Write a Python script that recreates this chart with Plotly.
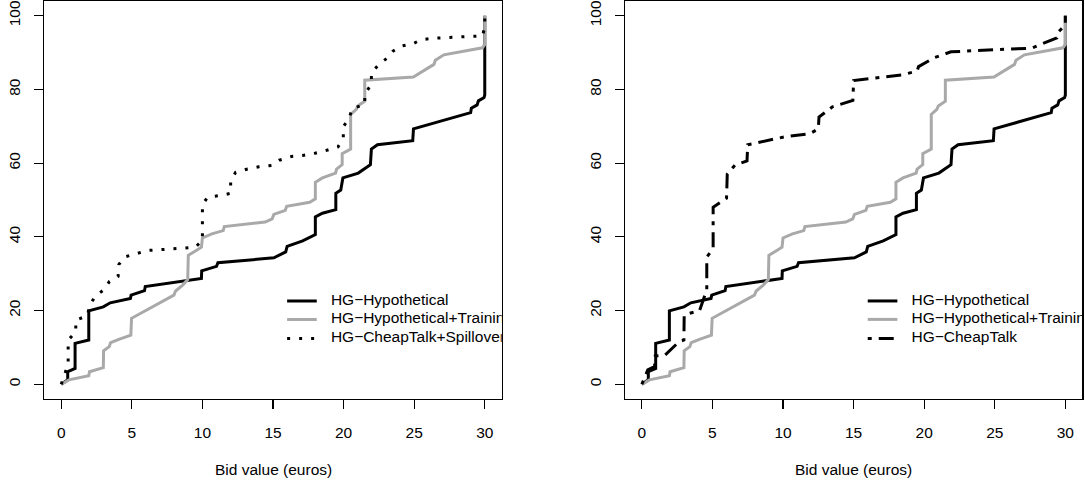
import plotly.graph_objects as go

# ---------------- data ----------------
hyp_x = [0, 0.46, 0.46, 0.98, 0.98, 1.95, 1.95, 2.98, 3.47, 4.9, 4.95, 5.9, 5.95, 9.93, 9.95,
         11.0, 11.1, 15.06, 15.9, 16.0, 17.1, 18.0, 18.0, 18.5, 19.45, 19.45, 19.8, 19.95, 21.04,
         21.9, 21.97, 22.4, 24.9, 24.95, 29.0, 29.05, 29.46, 29.55, 29.95, 30.0, 30.0]
hyp_y = [0, 1.2, 3.4, 4.3, 11.1, 12.0, 19.9, 21.0, 22.1, 23.3, 24.2, 25.4, 26.5, 28.7, 30.8,
         32.0, 33.0, 34.3, 35.9, 37.4, 38.9, 40.6, 45.4, 46.4, 47.4, 51.8, 52.7, 56.0, 57.3,
         59.6, 63.8, 65.0, 66.1, 69.3, 73.7, 74.9, 75.8, 76.9, 77.8, 78.5, 100]

train_x = [0, 0.54, 1.95, 2.0, 2.98, 3.0, 3.4, 3.5, 4.08, 4.93, 4.98, 7.98, 8.1, 8.6, 8.96, 9.0,
           9.56, 9.93, 10.0, 10.67, 11.47, 11.55, 14.45, 14.94, 15.06, 15.87, 15.97, 17.6, 18.0,
           18.0, 18.5, 19.43, 19.5, 19.9, 19.9, 20.2, 20.5, 20.5, 20.9, 21.0, 21.5, 21.5, 24.94,
           26.4, 26.5, 27.1, 29.83, 30.0, 30.0]
train_y = [0, 1.2, 2.3, 3.4, 4.5, 9.1, 10.2, 11.3, 12.2, 13.3, 17.9, 24.2, 25.3, 26.9, 28.4, 35.0,
           36.3, 37.2, 39.7, 40.8, 41.7, 42.8, 44.0, 44.9, 46.1, 47.2, 48.3, 49.4, 50.3,
           54.8, 56.0, 57.3, 58.4, 59.6, 62.6, 63.3, 63.8, 73.2, 74.6, 75.5, 76.8, 82.5, 83.4,
           86.8, 87.9, 89.4, 91.3, 92.2, 100]

spill_x = [0, 0.27, 0.49, 0.49, 1.03, 1.03, 1.85, 2.0, 2.37, 3.0, 3.42, 4.03, 4.08, 4.45, 5.3,
           6.1, 6.96, 8.67, 9.5, 10.0, 10.0, 10.38, 11.23, 12.0, 12.0, 12.35, 13.2, 14.0, 14.94,
           15.45, 16.3, 17.1, 17.97, 18.8, 19.6, 19.98, 19.98, 20.4, 20.6, 21.5, 21.5, 21.97,
           21.97, 22.5, 23.05, 23.5, 24.1, 24.9, 25.5, 26.4, 27.2, 28.1, 29.0, 29.85, 30.0, 30.0]
spill_y = [0, 2.8, 5.5, 12.0, 14.2, 17.4, 18.6, 21.2, 23.7, 25.6, 27.9, 29.3, 32.5, 34.5, 35.4,
           36.3, 36.5, 37.0, 37.2, 39.0, 48.8, 50.8, 51.2, 51.8, 55.2, 57.5, 58.4, 59.0, 59.4,
           60.8, 61.8, 62.1, 62.7, 63.5, 64.4, 66.6, 69.9, 72.2, 74.8, 75.9, 78.8, 81.4,
           84.5, 86.8, 88.4, 90.4, 91.8, 92.4, 93.5, 93.9, 94.1, 94.3, 94.4, 94.5, 97.2, 100]

cheap_x = [0, 0.42, 0.9, 0.95, 1.64, 2.0, 2.62, 2.98, 3.0, 3.3, 4.08, 4.5, 4.6, 4.6, 5.05, 5.05,
           6.0, 6.05, 6.6, 7.45, 7.5, 10.2, 11.9, 12.5, 12.55, 13.5, 14.95, 15.0, 18.5, 19.5,
           19.6, 20.7, 21.9, 24.9, 27.6, 29.4, 29.5, 30.0, 30.0]
cheap_y = [0, 3.9, 4.8, 7.7, 7.9, 9.3, 11.5, 12.0, 18.8, 19.2, 19.9, 24.5, 25.5, 34.5, 36.8, 48.0,
           50.5, 57.0, 59.5, 60.6, 65.0, 67.2, 68.0, 69.3, 72.5, 75.3, 77.0, 82.4, 84.0, 85.0,
           86.2, 88.6, 90.2, 90.8, 91.2, 94.0, 95.6, 97.5, 100]

x_ticks = [0, 5, 10, 15, 20, 25, 30]
y_ticks = [0, 20, 40, 60, 80, 100]

left_labels = ["HG\u2212Hypothetical", "HG\u2212Hypothetical+Training",
               "HG\u2212CheapTalk+Spillover"]
right_labels = ["HG\u2212Hypothetical", "HG\u2212Hypothetical+Training", "HG\u2212CheapTalk"]
x_title = "Bid value (euros)"

# ---------------- styles / layout constants ----------------
W, H = 1085, 480
FONT = "Liberation Sans, Arial, Helvetica, sans-serif"
FS = 15.5
GREY = "#A9A9A9"
LW = 3
DOT = "3px,9px"
DOTDASH = "4px,7px,15px,7px"

styles_left = [dict(color="black", width=LW, dash="solid"),
               dict(color=GREY, width=LW, dash="solid"),
               dict(color="black", width=LW, dash=DOT)]
styles_right = [dict(color="black", width=LW, dash="solid"),
                dict(color=GREY, width=LW, dash="solid"),
                dict(color="black", width=LW, dash=DOTDASH)]

# legend placement in data units (layout, not data)
LEG_X0, LEG_X1, LEG_TX = 16.0, 18.1, 19.1
LEG_ROWS = [22.6, 17.6, 12.4]

fig = go.Figure()

def add_panel(xs, ys, styles, labels, xa, ya):
    for x, y, st in zip(xs, ys, styles):
        fig.add_trace(go.Scatter(x=x, y=y, mode="lines", line=st, xaxis=xa, yaxis=ya,
                                 showlegend=False, hoverinfo="skip", cliponaxis=True))
    for row, st, lab in zip(LEG_ROWS, styles, labels):
        fig.add_trace(go.Scatter(x=[LEG_X0, LEG_X1], y=[row, row], mode="lines", line=st,
                                 xaxis=xa, yaxis=ya, showlegend=False, hoverinfo="skip"))
        fig.add_trace(go.Scatter(x=[LEG_TX], y=[row], mode="text", text=[lab],
                                 textposition="middle right", cliponaxis=True,
                                 textfont=dict(family=FONT, size=FS, color="black"),
                                 xaxis=xa, yaxis=ya, showlegend=False, hoverinfo="skip"))

add_panel([hyp_x, train_x, spill_x], [hyp_y, train_y, spill_y], styles_left, left_labels, "x", "y")
add_panel([hyp_x, train_x, cheap_x], [hyp_y, train_y, cheap_y], styles_right, right_labels, "x2", "y2")

ax_common = dict(showline=True, mirror=True, linecolor="black", linewidth=1.2,
                 ticks="outside", ticklen=9, tickwidth=1.2, tickcolor="black",
                 showgrid=False, zeroline=False, fixedrange=True,
                 tickfont=dict(family=FONT, size=FS, color="black"))

dom_left = [44.3 / W, 501.7 / W]
dom_right = [624.9 / W, 1082.3 / W]

fig.update_layout(
    width=W, height=H,
    margin=dict(l=0, r=0, t=1, b=81),
    paper_bgcolor="white", plot_bgcolor="white",
    font=dict(family=FONT, size=FS, color="black"),
    showlegend=False,
    hovermode=False,
    xaxis=dict(domain=dom_left, range=[-1.2, 31.2], tickvals=x_ticks, anchor="y",
               ticklabelstandoff=10, **ax_common),
    yaxis=dict(domain=[0, 1], range=[-4, 104], tickvals=y_ticks, anchor="x",
               tickangle=-90, ticklabelstandoff=8, **ax_common),
    xaxis2=dict(domain=dom_right, range=[-1.2, 31.2], tickvals=x_ticks, anchor="y2",
                ticklabelstandoff=10, **ax_common),
    yaxis2=dict(domain=[0, 1], range=[-4, 104], tickvals=y_ticks, anchor="x2",
                tickangle=-90, ticklabelstandoff=8, **ax_common),
)

title_y = (399 - 469) / 398
for dom in (dom_left, dom_right):
    fig.add_annotation(text=x_title, xref="paper", yref="paper",
                       x=(dom[0] + dom[1]) / 2, y=title_y, xanchor="center", yanchor="middle",
                       showarrow=False, font=dict(family=FONT, size=FS, color="black"))

fig.write_html("out.html",
               config={"displayModeBar": False, "staticPlot": True},
               post_script="document.body.style.margin='0';document.body.style.overflow='hidden';")
